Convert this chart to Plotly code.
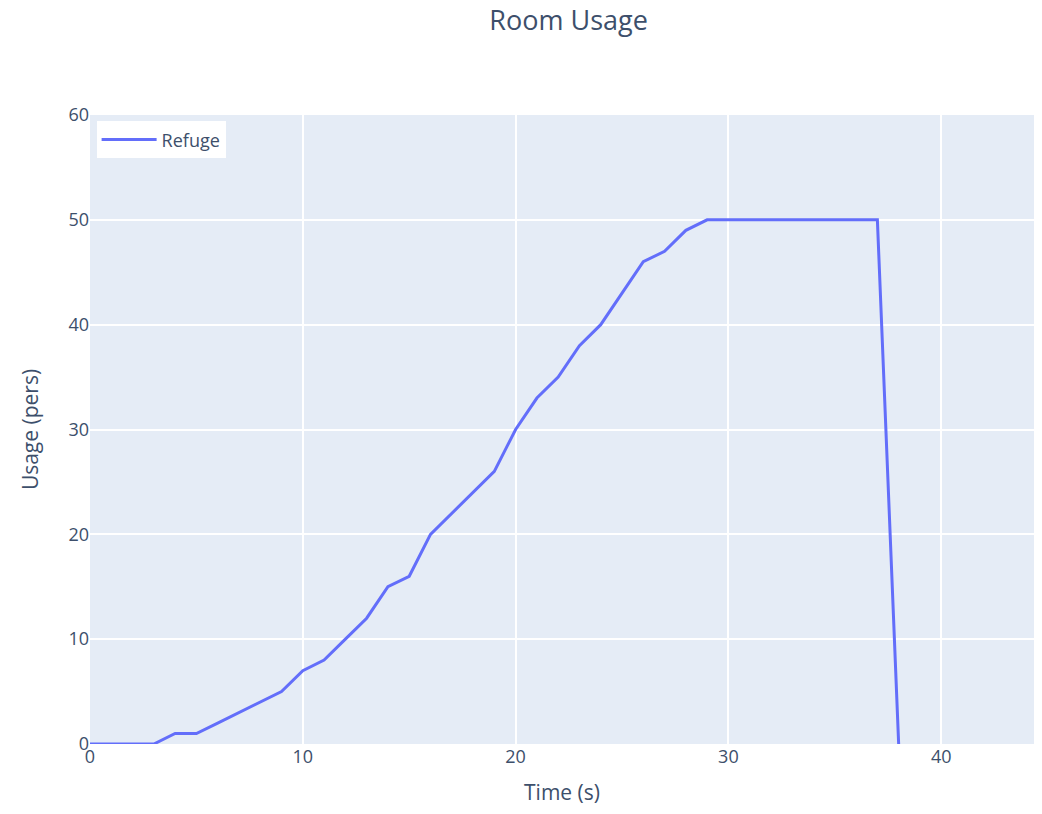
import plotly.graph_objects as go

time_s = list(range(0, 39))
usage = [0, 0, 0, 0, 1, 1, 2, 3, 4, 5,
         7, 8, 10, 12, 15, 16, 20, 22, 24, 26,
         30, 33, 35, 38, 40, 43, 46, 47, 49, 50,
         50, 50, 50, 50, 50, 50, 50, 50, 0]
series_name = "Refuge"
title_text = "Room Usage"
x_title = "Time (s)"
y_title = "Usage (pers)"

W, H = 1026, 798
fig = go.Figure()
fig.add_trace(go.Scatter(x=time_s, y=usage, mode="lines", name=series_name,
                         line=dict(color="#636EFA", width=3)))

fig.update_layout(
    template="plotly",
    width=W, height=H,
    margin=dict(l=82, r=0, t=107, b=62),
    font=dict(family="Open Sans, Verdana, Arial, sans-serif", color="#3d4f6b", size=18),
    title=dict(text=title_text, x=0.507, xanchor="center", xref="paper",
               y=1 - 13 / H, yref="container", yanchor="middle",
               font=dict(size=27)),
    showlegend=True,
    legend=dict(x=0.007, y=0.99, xanchor="left", yanchor="top",
                bgcolor="white", font=dict(size=18), itemwidth=55),
    plot_bgcolor="#E5ECF6",
)
fig.update_xaxes(title_text=x_title, range=[0, 44.36], dtick=10,
                 gridcolor="white", gridwidth=1.5, zeroline=False,
                 tickfont=dict(size=18), title_font=dict(size=21),
                 title_standoff=32, automargin=False)
fig.update_yaxes(title_text=y_title, range=[0, 60], dtick=10,
                 gridcolor="white", gridwidth=1.5, zeroline=False,
                 tickfont=dict(size=18), title_font=dict(size=21),
                 title_standoff=24)

fig.write_html("out.html")
